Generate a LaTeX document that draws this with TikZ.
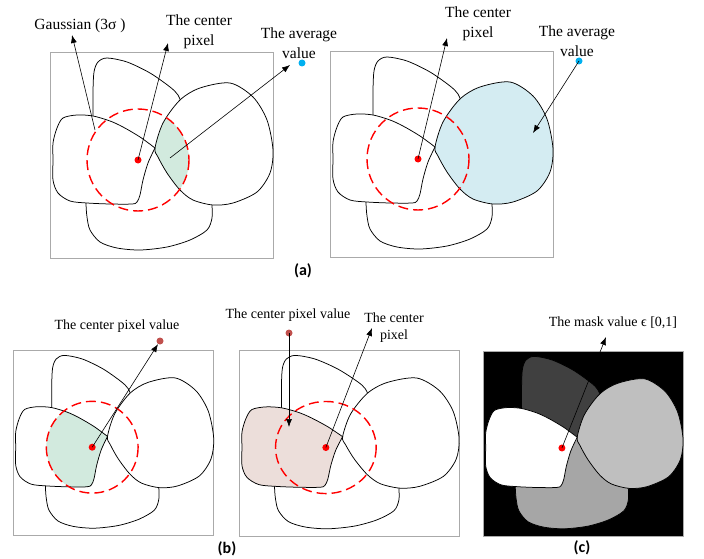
\documentclass[tikz,border=0pt]{standalone}
\usepackage{fontspec}
\setmainfont{Liberation Serif}
\newfontfamily\capfont{Carlito}
\usetikzlibrary{arrows.meta}

\definecolor{avgblue}{RGB}{0,176,240}
\definecolor{pixbrown}{RGB}{192,80,77}
\definecolor{mixgreen}{RGB}{210,234,222}
\definecolor{avgfill}{RGB}{212,236,242}
\definecolor{pixpink}{RGB}{236,222,218}
\definecolor{framegray}{RGB}{170,170,170}
\definecolor{topgray}{RGB}{64,64,64}
\definecolor{botgray}{RGB}{166,166,166}
\definecolor{rightgray}{RGB}{191,191,191}

% region outlines (panel units, y downwards)
\newcommand{\blobtopline}{plot[smooth] coordinates {(43,85) (43,41) (44,20) (48,10) (57,6) (77,10) (100,21) (120,35) (128,43) (133,55)}}
\newcommand{\blobtop}{\blobtopline -- (150,80) -- (105,96) -- (70,100) -- (43,100) -- cycle}
\newcommand{\blobbotline}{plot[smooth] coordinates {(36,140) (36,152) (37,165) (40,178) (50,190) (67,196) (90,198) (117,195) (140,188) (157,178) (162,166) (162,152) (162,140)}}
\newcommand{\blobbot}{\blobbotline -- (105,96) -- (60,130) -- cycle}
\newcommand{\blobleft}{plot[smooth] coordinates {(105,96) (90,85) (73,75) (60,69) (43,64) (27,63) (13,66) (7,76) (3,91) (3,108) (3,128) (8,141) (20,149) (37,151) (60,152) (82,152) (87,150) (90,143) (93,128) (98,111) (105,96)} -- cycle}
\newcommand{\blobright}{plot[smooth cycle] coordinates {(105,96) (113,71) (130,48) (150,36) (180,31) (203,45) (217,68) (223,98) (220,121) (207,140) (183,151) (163,153) (143,148) (130,138) (117,121) (108,105)}}
% fills: top, bottom, left, right; #5 = extra shading before the outlines
\newcommand{\blobs}[5]{%
  \fill[#1] \blobtop; \draw[blob] \blobtopline;
  \fill[#2] \blobbot; \draw[blob] \blobbotline;
  \fill[#3] \blobleft;
  \fill[#4] \blobright;
  #5
  \draw[blob] \blobleft;
  \draw[blob] \blobright;}

\begin{document}
\begin{tikzpicture}[x=1pt, y=-1pt,
    blob/.style={black, line width=0.75pt},
    frame/.style={draw=framegray, line width=0.8pt},
    gauss/.style={red, line width=1.4pt, dash pattern=on 10pt off 5pt},
    arr/.style={-{Latex[length=8pt,width=6pt]}, line width=0.6pt},
    dot/.style={circle, inner sep=0pt, minimum size=7pt},
    lbl/.style={font=\fontsize{15.5}{20}\selectfont, align=center},
    lbls/.style={font=\fontsize{14}{17}\selectfont, align=center},
    panellabel/.style={font=\capfont\bfseries\fontsize{16}{18}\selectfont}]
    \useasboundingbox (0,0) rectangle (704,559);

    % (a) left: mean of the overlap
    \begin{scope}[shift={(50,52)}]
        \draw[frame] (0,0) rectangle (223,206);
        \blobs{white}{white}{white}{white}{%
            \begin{scope}
                \clip \blobright;
                \fill[mixgreen] (88,108) circle [radius=51];
            \end{scope}}
        \draw[gauss] (88,108) circle [radius=51];
        \node[dot, fill=red] (cA) at (88,108) {};
        \coordinate (gA) at (45,78);
        \coordinate (mA) at (120,106);
    \end{scope}
    \node[lbl] (gaussA) at (80,26) {Gaussian (3σ )};
    \node[lbl] (centA) at (199,32) {The center\\pixel};
    \node[lbl] (avgA) at (299,43) {The average\\value};
    \node[dot, fill=avgblue] (bA) at (302,63) {};
    \coordinate (tgA) at (72,35);
    \coordinate (tcA) at (168,43);
    \coordinate (taA) at (290,65);
    \draw[arr] (gA) -- (tgA);
    \draw[arr] (cA.center) -- (tcA);
    \draw[arr] (mA) -- (taA);

    % (a) right: whole region
    \begin{scope}[shift={(330,51)}]
        \draw[frame] (0,0) rectangle (223,206);
        \blobs{white}{white}{white}{avgfill}{}
        \draw[gauss] (88,108) circle [radius=51];
        \node[dot, fill=red] (cB) at (88,108) {};
    \end{scope}
    \node[lbl] (centB) at (478,24) {The center\\pixel};
    \node[lbl] (avgB) at (577,41) {The average\\value};
    \node[dot, fill=avgblue] (bB) at (579,61) {};
    \coordinate (tcB) at (447,38);
    \coordinate (taB) at (533,133);
    \draw[arr] (cB.center) -- (tcB);
    \draw[arr] (bB.center) -- (taB);
    \node[panellabel] (capA) at (303,271) {(a)};

    % (b) left
    \begin{scope}[shift={(13,350)}, scale=0.9]
        \draw[frame] (0,0) rectangle (223,206);
        \blobs{white}{white}{white}{white}{%
            \begin{scope}
                \clip \blobleft;
                \fill[mixgreen] (88,108) circle [radius=51];
            \end{scope}}
        \draw[gauss] (88,108) circle [radius=51];
        \node[dot, fill=red] (cC) at (88,108) {};
    \end{scope}
    \node[lbls] (valC) at (117,326) {The center pixel value};
    \node[dot, fill=pixbrown] (pC) at (160,341) {};
    \draw[arr] (cC.center) -- (pC);

    % (b) middle
    \begin{scope}[shift={(239,350)}, xscale=0.987, yscale=0.903]
        \draw[frame] (0,0) rectangle (223,206);
        \blobs{white}{white}{pixpink}{white}{}
        \draw[gauss] (88,108) circle [radius=51];
        \node[dot, fill=red] (cD) at (88,108) {};
    \end{scope}
    \node[lbls] (valD) at (288,315) {The center pixel value};
    \node[lbls] (centD) at (394,327.5) {The center\\pixel};
    \node[dot, fill=pixbrown] (pD) at (289,333) {};
    \coordinate (tpD) at (289,427);
    \coordinate (tcD) at (372,328);
    \draw[arr] (pD.center) -- (tpD);
    \draw[arr] (cD.center) -- (tcD);
    \node[panellabel] (capB) at (227,549) {(b)};

    % (c) mask
    \begin{scope}[shift={(483,351)}, xscale=0.897, yscale=0.898]
        \fill[black] (0,0) rectangle (223,206);
        \draw[frame] (0,0) rectangle (223,206);
        \blobs{topgray}{botgray}{white}{rightgray}{}
        \node[dot, fill=red] (cE) at (88,108) {};
    \end{scope}
    \node[lbls] (maskE) at (613,323) {The mask value ϵ [0,1]};
    \coordinate (tmE) at (606,337);
    \draw[arr] (cE.center) -- (tmE);
    \node[panellabel] (capC) at (582,548) {(c)};
\end{tikzpicture}
\end{document}
